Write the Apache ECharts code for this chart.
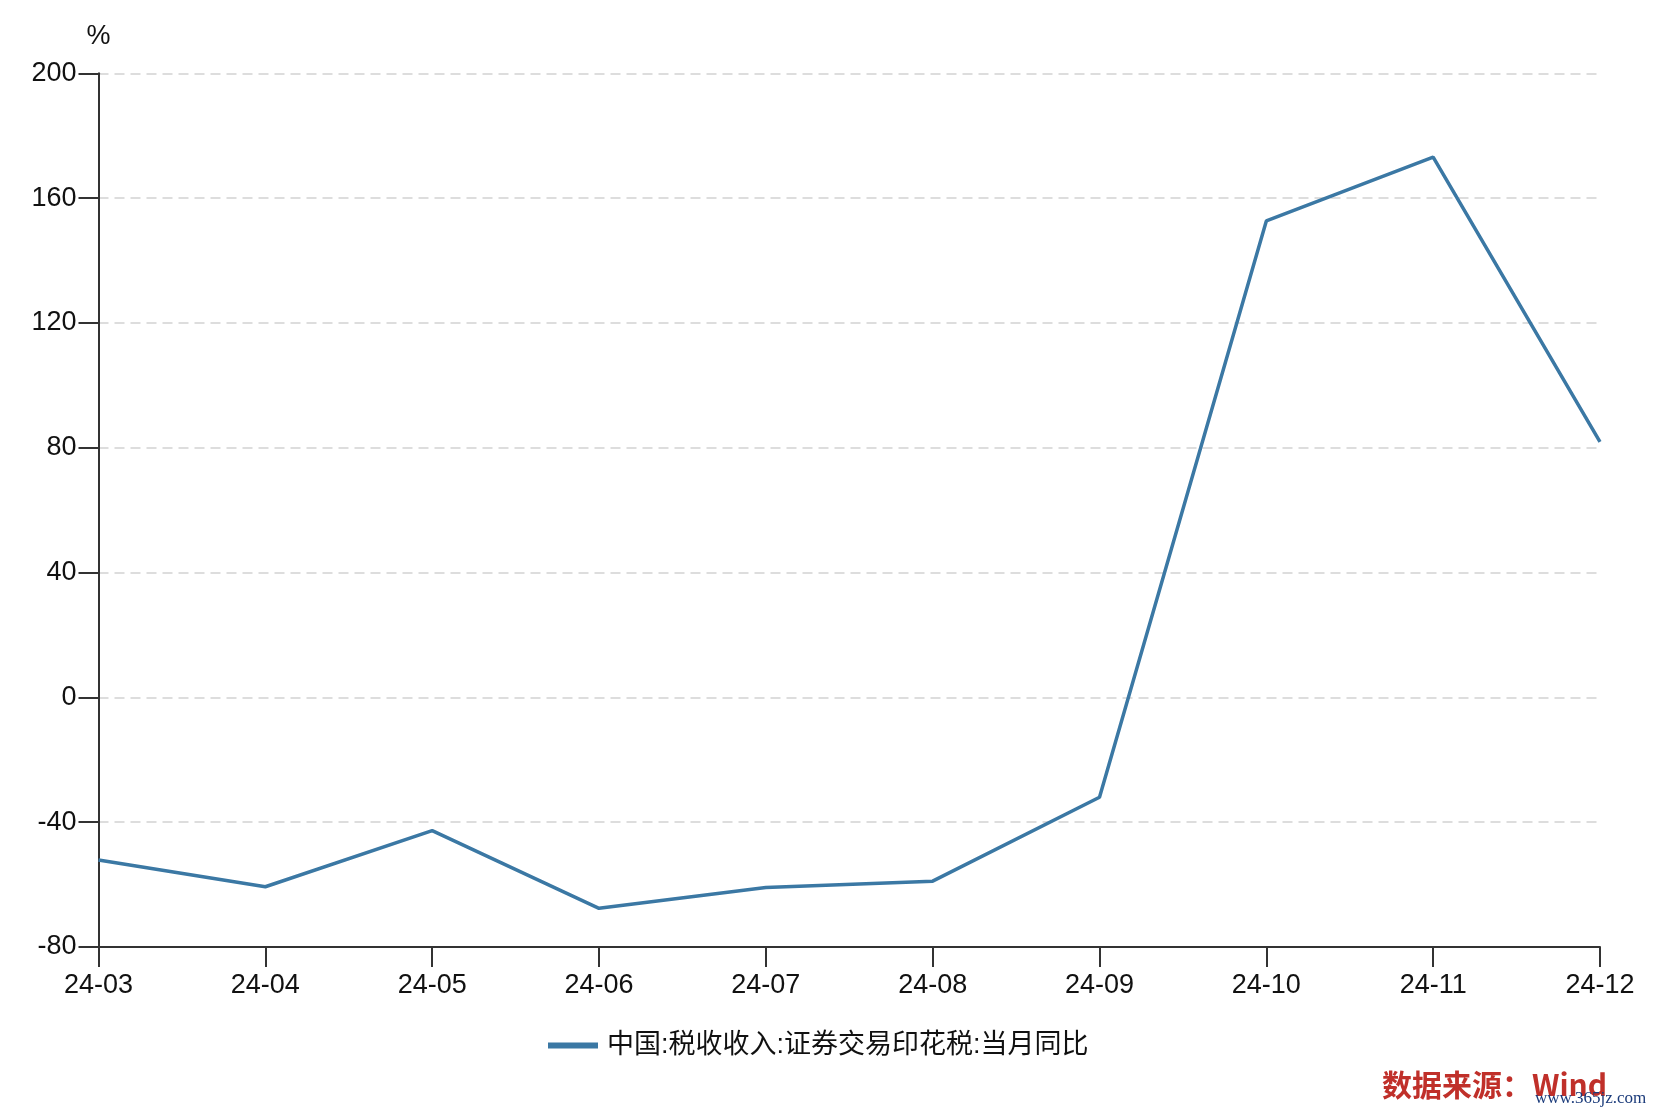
<!DOCTYPE html>
<html>
<head>
<meta charset="utf-8">
<script src="https://cdn.jsdelivr.net/npm/echarts@6/dist/echarts.min.js"></script>
<style>
html,body{margin:0;padding:0;background:#fff;}
#c{width:1658px;height:1114px;}
</style>
</head>
<body>
<div id="c"></div>
<script>
const categories = ['24-03','24-04','24-05','24-06','24-07','24-08','24-09','24-10','24-11','24-12'];
const seriesName = '中国:税收收入:证券交易印花税:当月同比';
const values = [-52.1, -60.7, -42.7, -67.6, -60.9, -58.9, -32.0, 152.7, 173.1, 81.9];
const yMin = -80, yMax = 200, yStep = 40;

const chart = echarts.init(document.getElementById('c'));
const font = '"Liberation Sans", Arial, "Noto Sans CJK SC", sans-serif';
chart.setOption({
  backgroundColor: '#fff',
  animation: false,
  grid: {left: 98.5, right: 58, top: 73.3, bottom: 167, containLabel: false},
  legend: {
    left: 543, top: 1027,
    itemWidth: 50, itemHeight: 6, itemGap: 10,
    icon: 'rect',
    textStyle: {fontSize: 27, color: '#111', fontFamily: font, padding: [0, 0, 0, 4]},
    data: [seriesName]
  },
  xAxis: {
    type: 'category', data: categories, boundaryGap: false,
    axisLine: {onZero: false, lineStyle: {color: '#333', width: 2}},
    axisTick: {alignWithLabel: true, length: 20, lineStyle: {color: '#333', width: 2}},
    axisLabel: {fontSize: 27, color: '#111', margin: 25, fontFamily: font},
    splitLine: {show: false}
  },
  yAxis: {
    type: 'value', min: yMin, max: yMax, interval: yStep,
    name: '%', nameLocation: 'end', nameGap: 23,
    nameTextStyle: {fontSize: 27, color: '#111', fontFamily: font, align: 'center'},
    axisLine: {show: true, lineStyle: {color: '#333', width: 2}},
    axisTick: {show: true, length: 20, lineStyle: {color: '#333', width: 2}},
    axisLabel: {fontSize: 27, color: '#111', margin: 22, fontFamily: font},
    splitLine: {show: true, lineStyle: {color: '#ddd', width: 2, type: [10, 6]}}
  },
  series: [{
    name: seriesName, type: 'line', data: values,
    symbol: 'none', smooth: false,
    lineStyle: {color: '#3b78a4', width: 3.5},
    itemStyle: {color: '#3b78a4'}
  }],
  graphic: [
    {type: 'text', left: 1382, top: 1070, style: {text: '数据来源：Wind', fontSize: 30, fontWeight: 'bold', fill: '#c0302a', fontFamily: '"Noto Sans CJK SC", sans-serif'}},
    {type: 'text', left: 1535, top: 1090, style: {text: 'www.365jz.com', fontSize: 17, fill: '#1a3a7a', fontFamily: '"Liberation Serif", serif'}}
  ]
});
</script>
</body>
</html>
